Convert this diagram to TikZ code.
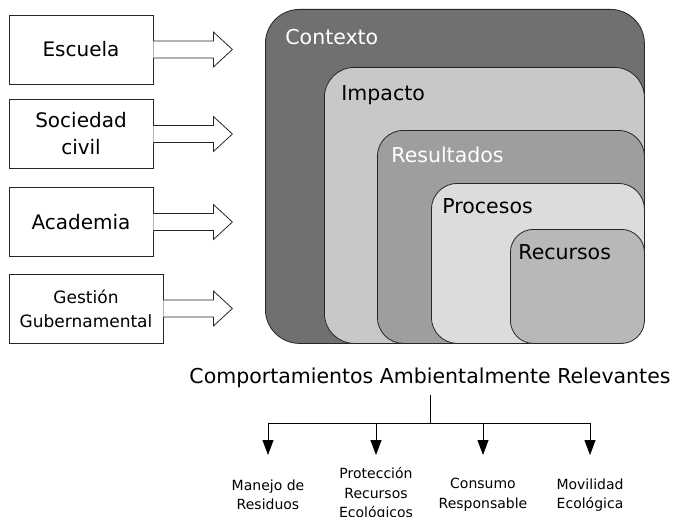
\documentclass[tikz,border=0pt]{standalone}
\usepackage{fontspec}
\setmainfont{DejaVu Sans}
\usetikzlibrary{arrows.meta}
\definecolor{ctxgray}{RGB}{112,112,112}
\definecolor{impgray}{RGB}{200,200,200}
\definecolor{resgray}{RGB}{158,158,158}
\definecolor{progray}{RGB}{220,220,220}
\definecolor{recgray}{RGB}{184,184,184}
\begin{document}
\begin{tikzpicture}[x=1pt,y=-1pt,line width=0.8pt,
  inbox/.style={draw=black!85,fill=white,minimum width=144pt,minimum height=69pt,align=center,font=\fontsize{20}{27}\selectfont},
  layer/.style={draw=black!85,anchor=north west,rounded corners=26pt},
  layertext/.style={anchor=base west,inner sep=0pt,font=\fontsize{20.5}{24}\selectfont},
  flow/.style={draw=black!85,fill=white},
  bhv/.style={align=center,font=\fontsize{14}{19.5}\selectfont}]
\useasboundingbox (0,0) rectangle (676,516);

% actores
\node[inbox] (esc) at (81,49.5) {Escuela};
\node[inbox] (soc) at (81,134) {Sociedad\\civil};
\node[inbox] (aca) at (81,222) {Academia};
\node[inbox,minimum width=154pt,font=\fontsize{17}{24}\selectfont] (ges) at (86,308.5) {Gestión\\Gubernamental};
\foreach \b/\l in {esc/60,soc/60,aca/60,ges/50}
  \filldraw[flow] (\b.east) ++(0,-8.5) -- ++(\l,0) -- ++(0,-9) -- ++(19,17.5) -- ++(-19,17.5) -- ++(0,-9) -- ++(-\l,0);

% niveles
\node[layer,fill=ctxgray,minimum width=379pt,minimum height=334pt,rounded corners=34pt] (ctx) at (265,9) {};
\node[layer,fill=impgray,minimum width=320pt,minimum height=276pt,rounded corners=30pt] (imp) at (324,67) {};
\node[layer,fill=resgray,minimum width=267pt,minimum height=213pt] (res) at (377,130) {};
\node[layer,fill=progray,minimum width=213pt,minimum height=160pt] (pro) at (431,183) {};
\node[layer,fill=recgray,minimum width=134pt,minimum height=114pt,rounded corners=23pt] (rec) at (510,229) {};

\node[layertext,white] at ([xshift=20pt,yshift=-36pt]ctx.north west) {Contexto};
\node[layertext] at ([xshift=17pt,yshift=-33pt]imp.north west) {Impacto};
\node[layertext,white] at ([xshift=14pt,yshift=-32pt]res.north west) {Resultados};
\node[layertext] at ([xshift=11pt,yshift=-30pt]pro.north west) {Procesos};
\node[layertext] at ([xshift=8pt,yshift=-30pt]rec.north west) {Recursos};

% comportamientos
\node[font=\fontsize{20.5}{24}\selectfont,inner xsep=0pt,inner ysep=7pt] (car) at (430,378) {Comportamientos Ambientalmente Relevantes};
\coordinate (hub) at (430,423);
\foreach \i/\x in {1/268,2/376,3/483,4/590} {
  \coordinate (b\i) at (\x,423);
  \coordinate (t\i) at (\x,455);
}
\draw (car.south) -- (hub);
\draw (b1) -- (b4);
\foreach \i in {1,...,4}
  \draw[-{Triangle[length=15pt,width=11pt]}] (b\i) -- (t\i);

\node[bhv] (m1) at (268,495) {Manejo de\\Residuos};
\node[bhv] (m2) at (376,494) {Protección\\Recursos\\Ecológicos};
\node[bhv] (m3) at (483,495) {Consumo\\Responsable};
\node[bhv] (m4) at (590,495) {Movilidad\\Ecológica};
\end{tikzpicture}
\end{document}
